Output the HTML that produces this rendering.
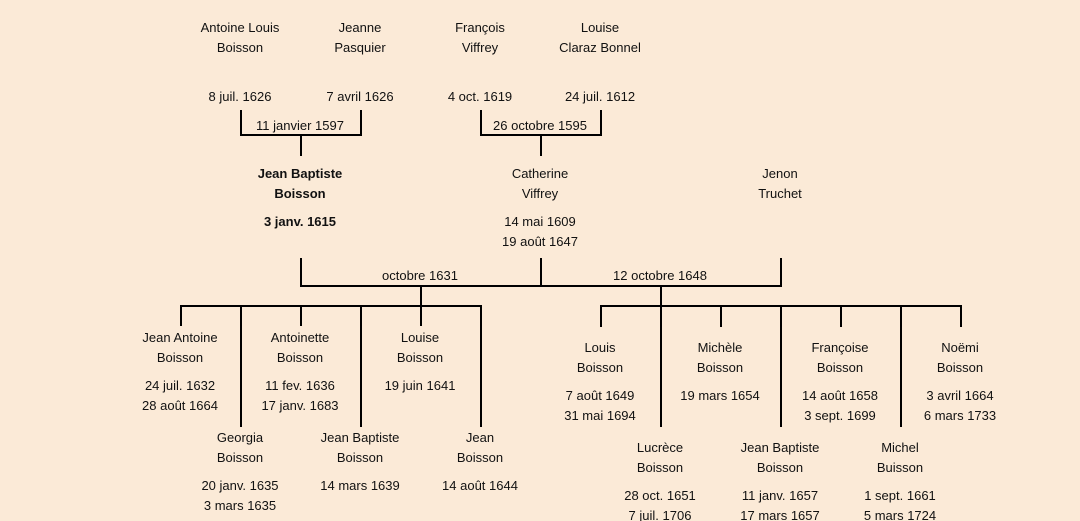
<!DOCTYPE html>
<html>
<head>
<meta charset="utf-8">
<style>
html,body{margin:0;padding:0;background:#fbead7;}
svg{display:block;}
text{font-family:"Liberation Sans","DejaVu Sans",sans-serif;font-size:13px;fill:#111;text-anchor:middle;}
.b{font-weight:bold;}
</style>
</head>
<body>
<svg width="1080" height="521" viewBox="0 0 1080 521" xmlns="http://www.w3.org/2000/svg">
<rect width="1080" height="521" fill="#fbead7"/>
<g stroke="#000" stroke-width="2" fill="none">
  <!-- top-left bracket -->
  <polyline points="241,110 241,135 361,135 361,110"/>
  <line x1="301" y1="135" x2="301" y2="156"/>
  <!-- top-right bracket -->
  <polyline points="481,110 481,135 601,135 601,110"/>
  <line x1="541" y1="135" x2="541" y2="156"/>
  <!-- marriages -->
  <polyline points="301,258 301,286 781,286 781,258"/>
  <line x1="541" y1="258" x2="541" y2="286"/>
  <line x1="421" y1="286" x2="421" y2="306"/>
  <line x1="661" y1="286" x2="661" y2="306"/>
  <!-- left children bar -->
  <line x1="180" y1="306" x2="482" y2="306"/>
  <line x1="181" y1="306" x2="181" y2="326"/>
  <line x1="301" y1="306" x2="301" y2="326"/>
  <line x1="421" y1="306" x2="421" y2="326"/>
  <line x1="241" y1="306" x2="241" y2="427"/>
  <line x1="361" y1="306" x2="361" y2="427"/>
  <line x1="481" y1="306" x2="481" y2="427"/>
  <!-- right children bar -->
  <line x1="600" y1="306" x2="962" y2="306"/>
  <line x1="601" y1="306" x2="601" y2="327"/>
  <line x1="721" y1="306" x2="721" y2="327"/>
  <line x1="841" y1="306" x2="841" y2="327"/>
  <line x1="961" y1="306" x2="961" y2="327"/>
  <line x1="661" y1="306" x2="661" y2="427"/>
  <line x1="781" y1="306" x2="781" y2="427"/>
  <line x1="901" y1="306" x2="901" y2="427"/>
</g>

<!-- grandparents -->
<text x="240" y="32">Antoine Louis</text>
<text x="240" y="52">Boisson</text>
<text x="240" y="101">8 juil. 1626</text>
<text x="360" y="32">Jeanne</text>
<text x="360" y="52">Pasquier</text>
<text x="360" y="101">7 avril 1626</text>
<text x="480" y="32">François</text>
<text x="480" y="52">Viffrey</text>
<text x="480" y="101">4 oct. 1619</text>
<text x="600" y="32">Louise</text>
<text x="600" y="52">Claraz Bonnel</text>
<text x="600" y="101">24 juil. 1612</text>
<text x="300" y="130">11 janvier 1597</text>
<text x="540" y="130">26 octobre 1595</text>

<!-- parents -->
<text class="b" x="300" y="178">Jean Baptiste</text>
<text class="b" x="300" y="198">Boisson</text>
<text class="b" x="300" y="226">3 janv. 1615</text>
<text x="540" y="178">Catherine</text>
<text x="540" y="198">Viffrey</text>
<text x="540" y="226">14 mai 1609</text>
<text x="540" y="246">19 août 1647</text>
<text x="780" y="178">Jenon</text>
<text x="780" y="198">Truchet</text>
<text x="420" y="280">octobre 1631</text>
<text x="660" y="280">12 octobre 1648</text>

<!-- left children row 1 -->
<text x="180" y="342">Jean Antoine</text>
<text x="180" y="362">Boisson</text>
<text x="180" y="390">24 juil. 1632</text>
<text x="180" y="410">28 août 1664</text>
<text x="300" y="342">Antoinette</text>
<text x="300" y="362">Boisson</text>
<text x="300" y="390">11 fev. 1636</text>
<text x="300" y="410">17 janv. 1683</text>
<text x="420" y="342">Louise</text>
<text x="420" y="362">Boisson</text>
<text x="420" y="390">19 juin 1641</text>
<!-- left children row 2 -->
<text x="240" y="442">Georgia</text>
<text x="240" y="462">Boisson</text>
<text x="240" y="490">20 janv. 1635</text>
<text x="240" y="510">3 mars 1635</text>
<text x="360" y="442">Jean Baptiste</text>
<text x="360" y="462">Boisson</text>
<text x="360" y="490">14 mars 1639</text>
<text x="480" y="442">Jean</text>
<text x="480" y="462">Boisson</text>
<text x="480" y="490">14 août 1644</text>

<!-- right children row 1 -->
<text x="600" y="352">Louis</text>
<text x="600" y="372">Boisson</text>
<text x="600" y="400">7 août 1649</text>
<text x="600" y="420">31 mai 1694</text>
<text x="720" y="352">Michèle</text>
<text x="720" y="372">Boisson</text>
<text x="720" y="400">19 mars 1654</text>
<text x="840" y="352">Françoise</text>
<text x="840" y="372">Boisson</text>
<text x="840" y="400">14 août 1658</text>
<text x="840" y="420">3 sept. 1699</text>
<text x="960" y="352">Noëmi</text>
<text x="960" y="372">Boisson</text>
<text x="960" y="400">3 avril 1664</text>
<text x="960" y="420">6 mars 1733</text>
<!-- right children row 2 -->
<text x="660" y="452">Lucrèce</text>
<text x="660" y="472">Boisson</text>
<text x="660" y="500">28 oct. 1651</text>
<text x="660" y="520">7 juil. 1706</text>
<text x="780" y="452">Jean Baptiste</text>
<text x="780" y="472">Boisson</text>
<text x="780" y="500">11 janv. 1657</text>
<text x="780" y="520">17 mars 1657</text>
<text x="900" y="452">Michel</text>
<text x="900" y="472">Buisson</text>
<text x="900" y="500">1 sept. 1661</text>
<text x="900" y="520">5 mars 1724</text>
</svg>
</body>
</html>
